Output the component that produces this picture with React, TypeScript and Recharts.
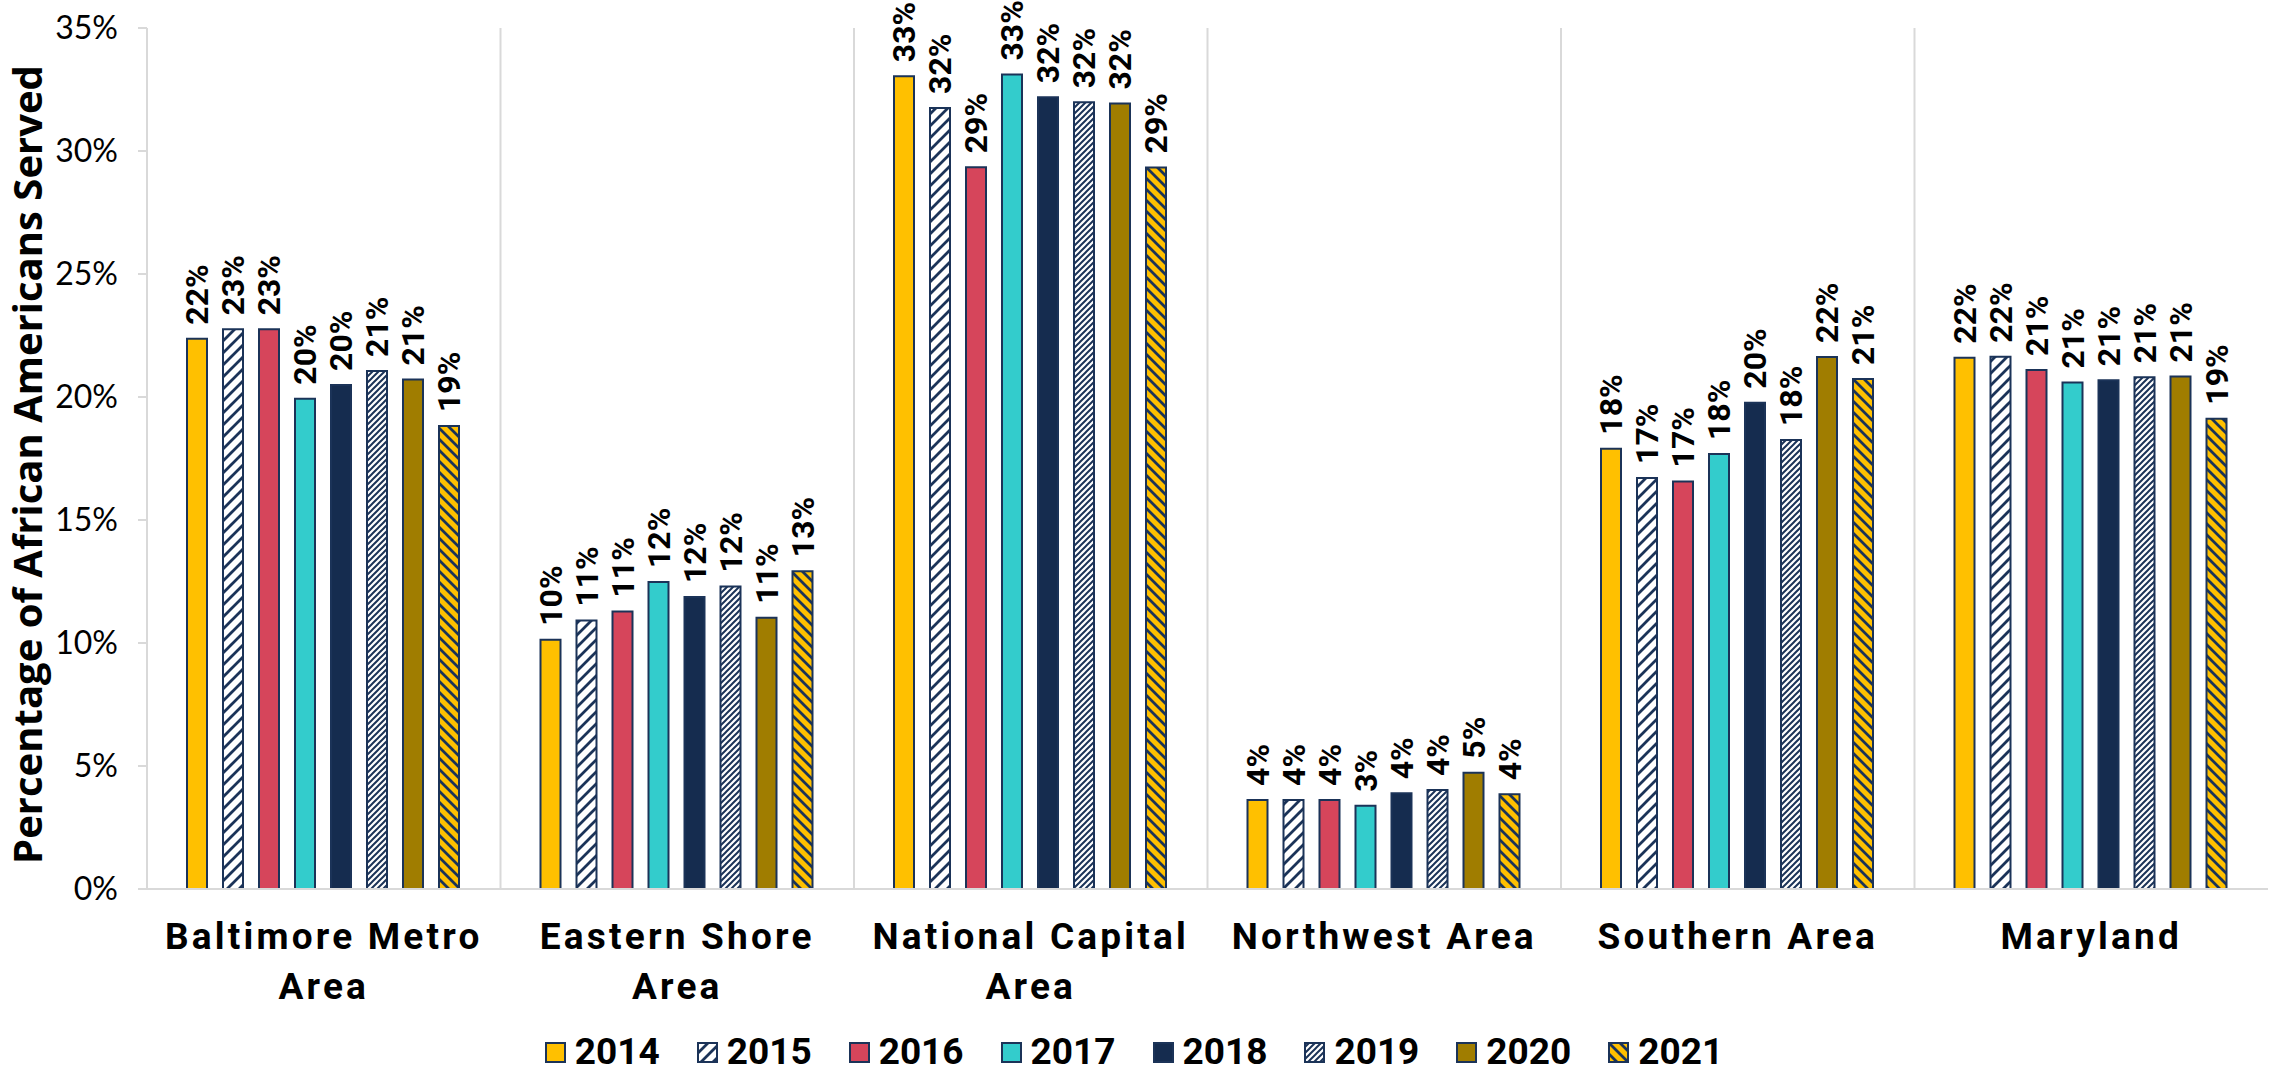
import React from 'react';
import { BarChart, Bar, XAxis, YAxis, CartesianGrid, Legend, Label } from 'recharts';

const categories = ['Baltimore Metro Area', 'Eastern Shore Area', 'National Capital Area', 'Northwest Area', 'Southern Area', 'Maryland'];
const categoryLines = [['Baltimore Metro', 'Area'], ['Eastern Shore', 'Area'], ['National Capital', 'Area'], ['Northwest Area'], ['Southern Area'], ['Maryland']];

const years = ['2014', '2015', '2016', '2017', '2018', '2019', '2020', '2021'];

const v2014 = [22.37, 10.13, 33.04, 3.62, 17.9, 21.6];
const v2015 = [22.75, 10.91, 31.75, 3.62, 16.71, 21.64];
const v2016 = [22.75, 11.28, 29.34, 3.62, 16.57, 21.1];
const v2017 = [19.93, 12.48, 33.11, 3.38, 17.68, 20.59];
const v2018 = [20.49, 11.87, 32.19, 3.89, 19.77, 20.68];
const v2019 = [21.06, 12.3, 31.98, 4.02, 18.25, 20.8];
const v2020 = [20.71, 11.03, 31.93, 4.73, 21.63, 20.83];
const v2021 = [18.82, 12.92, 29.33, 3.85, 20.73, 19.12];

const yTicks = [0, 5, 10, 15, 20, 25, 30, 35];

const seriesValues = [v2014, v2015, v2016, v2017, v2018, v2019, v2020, v2021];
const seriesFills = ['#FFC000', 'url(#p2015)', '#D6455B', '#33CCCC', '#152C4F', 'url(#p2019)', '#A07D00', 'url(#p2021)'];

const NAVY = '#1B3358';
const GRID = '#D9D9D9';

const data = categories.map((c, i) => {
  const row: Record<string, string | number> = { category: c };
  years.forEach((yr, k) => { row['y' + yr] = seriesValues[k][i]; });
  return row;
});

const BarLabel = (props: any) => {
  const { x, y, width, value } = props;
  return (
    <text
      transform={`translate(${x + width / 2 + 11},${y - 14}) rotate(-90)`}
      fontFamily="Roboto"
      fontWeight={700}
      fontSize={32}
      fill="#000"
    >
      {Math.round(value)}%
    </text>
  );
};

const CategoryTick = (props: any) => {
  const { x, y, payload } = props;
  const lines = categoryLines[payload.index] || [payload.value];
  return (
    <text x={x} y={y} textAnchor="middle" fontFamily="Roboto" fontWeight={700} fontSize={37} letterSpacing={3.2} fill="#000">
      {lines.map((l, i) => (
        <tspan key={i} x={x} dy={i === 0 ? 52 : 50}>{l}</tspan>
      ))}
    </text>
  );
};

const LegendContent = () => (
  <div style={{ height: 62, boxSizing: 'border-box', paddingTop: 28, display: 'flex', justifyContent: 'center' }}>
    {years.map((yr, k) => (
      <div key={yr} style={{ display: 'flex', alignItems: 'center', height: 30, marginRight: k < years.length - 1 ? 37 : 0 }}>
        <svg width={21} height={21}>
          <rect x={1} y={1} width={19} height={19} fill={seriesFills[k]} stroke={NAVY} strokeWidth={2} />
        </svg>
        <span style={{ marginLeft: 9, fontFamily: 'Roboto', fontWeight: 700, fontSize: 37, lineHeight: '30px', color: '#000' }}>{yr}</span>
      </div>
    ))}
  </div>
);

const YTitle = (props: any) => {
  const { viewBox } = props;
  const cy = viewBox.y + viewBox.height / 2;
  return (
    <text
      transform={`translate(42,${cy + 6}) rotate(-90)`}
      textAnchor="middle"
      fontFamily="Open Sans"
      fontWeight={700}
      fontSize={40}
      fill="#000"
    >
      Percentage of African Americans Served
    </text>
  );
};

export default function App() {
  return (
    <div style={{ position: 'absolute', left: 0, top: 0, background: '#fff' }}>
      <BarChart
        width={2272}
        height={1071}
        data={data}
        margin={{ top: 28, right: 4, left: 0, bottom: 0 }}
        barCategoryGap={40}
        barGap={16}
      >
        <defs>
          <pattern id="p2015" patternUnits="userSpaceOnUse" width={12} height={12}>
            <rect width={12} height={12} fill="#fff" />
            <path d="M-3,3 L3,-3 M0,12 L12,0 M9,15 L15,9" stroke={NAVY} strokeWidth={2.8} />
          </pattern>
          <pattern id="p2019" patternUnits="userSpaceOnUse" width={6} height={6}>
            <rect width={6} height={6} fill="#fff" />
            <path d="M-1.5,1.5 L1.5,-1.5 M0,6 L6,0 M4.5,7.5 L7.5,4.5" stroke={NAVY} strokeWidth={2} />
          </pattern>
          <pattern id="p2021" patternUnits="userSpaceOnUse" width={11} height={11}>
            <rect width={11} height={11} fill="#FFC000" />
            <path d="M-3,8 L3,14 M0,0 L11,11 M8,-3 L14,3" stroke={NAVY} strokeWidth={2.8} />
          </pattern>
        </defs>
        <CartesianGrid
          horizontal={false}
          stroke={GRID}
          strokeWidth={2}
          verticalCoordinatesGenerator={({ offset }: any) =>
            categories.slice(1).map((_, i) => offset.left + ((i + 1) * offset.width) / categories.length)
          }
        />
        <XAxis
          dataKey="category"
          height={120}
          interval={0}
          tickLine={false}
          axisLine={{ stroke: GRID, strokeWidth: 2 }}
          tick={<CategoryTick />}
        />
        <YAxis
          width={147}
          domain={[0, 35]}
          ticks={yTicks}
          tickFormatter={(v) => `${v}%`}
          axisLine={{ stroke: GRID, strokeWidth: 2 }}
          tickLine={{ stroke: GRID, strokeWidth: 2 }}
          tickSize={9}
          tickMargin={20}
          tick={{ fontFamily: 'Lato', fontSize: 32, fill: '#000' }}
        >
          <Label content={<YTitle />} />
        </YAxis>
        <Legend verticalAlign="bottom" height={62} content={<LegendContent />} />
        {years.map((yr, k) => (
          <Bar
            key={yr}
            dataKey={'y' + yr}
            name={yr}
            fill={seriesFills[k]}
            stroke={NAVY}
            strokeWidth={2}
            isAnimationActive={false}
            label={<BarLabel />}
          />
        ))}
      </BarChart>
    </div>
  );
}
